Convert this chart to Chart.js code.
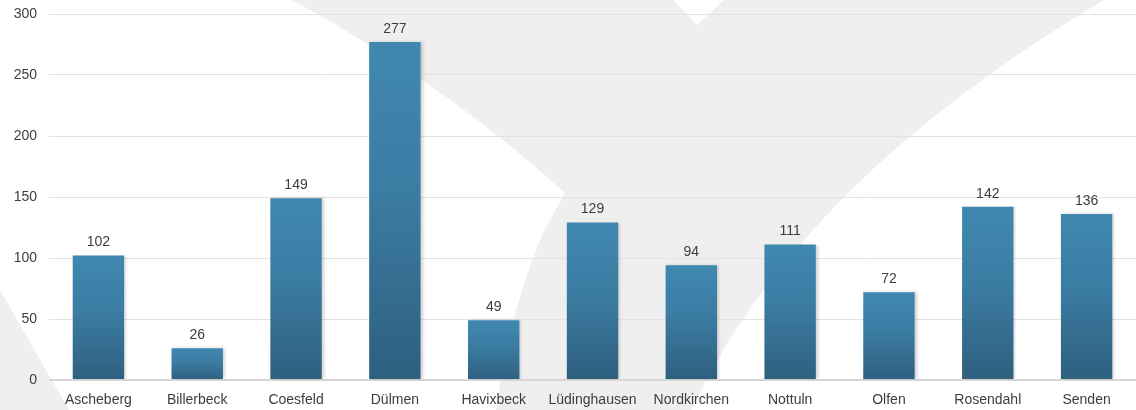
<!DOCTYPE html>
<html>
<head>
<meta charset="utf-8">
<script src="https://cdn.jsdelivr.net/npm/chart.js@4/dist/chart.umd.min.js"></script>
<style>
    html, body { margin: 0; padding: 0; background: #fff; }
    #wrap { width: 1136px; height: 410px; position: relative; }
</style>
</head>
<body>
<div id="wrap"><canvas id="myChart"></canvas></div>
<script>
const categories = ['Ascheberg', 'Billerbeck', 'Coesfeld', 'Dülmen', 'Havixbeck', 'Lüdinghausen', 'Nordkirchen', 'Nottuln', 'Olfen', 'Rosendahl', 'Senden'];
const values = [102, 26, 149, 277, 49, 129, 94, 111, 72, 142, 136];
const yMin = 0;
const yMax = 300;
const yStep = 50;

const textColor = '#3d3d3d';
const fontFamily = '"Liberation Sans", Arial, sans-serif';

// light grey logo shape behind the plot
const watermark = {
    id: 'watermark',
    beforeDraw(chart) {
        const c = chart.ctx;
        c.save();
        c.fillStyle = '#efefef';
        c.beginPath();
        c.moveTo(292, 0);
        c.quadraticCurveTo(440, 80, 565, 193);
        c.lineTo(543, 233);
        c.quadraticCurveTo(510, 310, 496, 410);
        c.lineTo(691, 410);
        c.quadraticCurveTo(800, 180, 1104, 0);
        c.lineTo(724, 0);
        c.lineTo(697, 25);
        c.lineTo(673, 0);
        c.closePath();
        c.fill();
        c.beginPath();
        c.moveTo(0, 290);
        c.lineTo(69, 410);
        c.lineTo(0, 410);
        c.closePath();
        c.fill();
        c.restore();
    }
};

// soft shadow behind the bars
const barShadow = {
    id: 'barShadow',
    beforeDatasetsDraw(chart) {
        const c = chart.ctx;
        c.save();
        c.shadowColor = 'rgba(0,0,0,0.18)';
        c.shadowBlur = 3;
        c.shadowOffsetX = 2;
        c.shadowOffsetY = 0;
    },
    afterDatasetsDraw(chart) {
        chart.ctx.restore();
    }
};

// value above each bar
const valueLabels = {
    id: 'valueLabels',
    afterDraw(chart) {
        const c = chart.ctx;
        const meta = chart.getDatasetMeta(0);
        c.save();
        c.font = '14px ' + fontFamily;
        c.fillStyle = textColor;
        c.textAlign = 'center';
        c.textBaseline = 'bottom';
        meta.data.forEach((bar, i) => {
            c.fillText(values[i], bar.x, bar.y - 6);
        });
        c.restore();
    }
};

const barGradient = (context) => {
    const chart = context.chart;
    if (!chart.chartArea) return '#3a7ca3';
    const y = chart.scales.y;
    const top = y.getPixelForValue(values[context.dataIndex]);
    const bottom = y.getPixelForValue(0);
    const g = chart.ctx.createLinearGradient(0, top, 0, bottom);
    g.addColorStop(0, '#4088b0');
    g.addColorStop(0.45, '#3b7ca2');
    g.addColorStop(1, '#2e5f7f');
    return g;
};

const ctx = document.getElementById('myChart');
new Chart(ctx, {
    type: 'bar',
    data: {
        labels: categories,
        datasets: [{
            data: values,
            backgroundColor: barGradient,
            borderWidth: 0,
            barPercentage: 0.52,
            categoryPercentage: 1
        }]
    },
    options: {
        responsive: true,
        maintainAspectRatio: false,
        animation: false,
        layout: {
            padding: { top: 0, right: 0, bottom: 0, left: 0 }
        },
        plugins: {
            legend: { display: false },
            tooltip: { enabled: false }
        },
        scales: {
            x: {
                grid: { display: false, drawTicks: false },
                border: { display: false },
                ticks: {
                    color: textColor,
                    padding: 12,
                    maxRotation: 0,
                    autoSkip: false,
                    font: { family: fontFamily, size: 14 }
                },
                afterFit: (scale) => { scale.height = 30; }
            },
            y: {
                min: yMin,
                max: yMax,
                border: { display: false },
                grid: {
                    drawTicks: false,
                    color: (c) => c.tick && c.tick.value === 0 ? '#d6d6d6' : '#e2e2e2',
                    lineWidth: (c) => c.tick && c.tick.value === 0 ? 2 : 1
                },
                ticks: {
                    stepSize: yStep,
                    color: textColor,
                    padding: 12,
                    font: { family: fontFamily, size: 14 }
                },
                afterFit: (scale) => {
                    scale.width = 49;
                    scale.paddingTop = 14;
                    scale.paddingBottom = 0;
                }
            }
        }
    },
    plugins: [watermark, barShadow, valueLabels]
});
</script>
</body>
</html>
